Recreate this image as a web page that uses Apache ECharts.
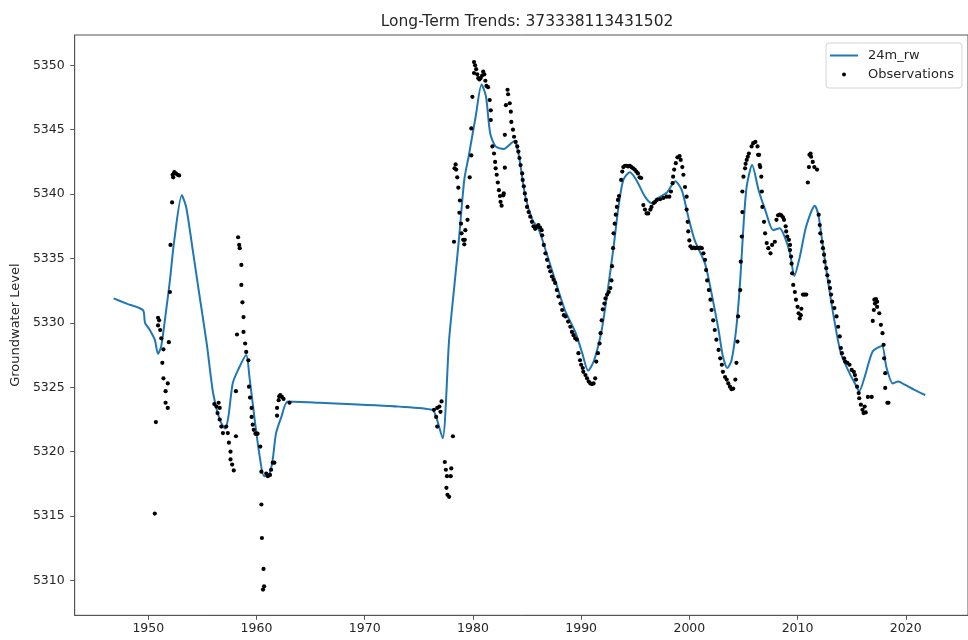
<!DOCTYPE html>
<html>
<head>
<meta charset="utf-8">
<script src="https://cdn.jsdelivr.net/npm/echarts@6/dist/echarts.min.js"></script>
<style>html,body{margin:0;padding:0;background:#fff}#c{width:968px;height:640px}</style>
</head>
<body>
<div id="c"></div>
<script>
const titleText = 'Long-Term Trends: 373338113431502';
const lineName = '24m_rw';
const obsName = 'Observations';
const yAxisName = 'Groundwater Level';
const xTicks = [1950, 1960, 1970, 1980, 1990, 2000, 2010, 2020];
const yTicks = [5310, 5315, 5320, 5325, 5330, 5335, 5340, 5345, 5350];

const lineYears = [1946.8,1948.0,1949.5,1949.7,1950.1,1950.6,1950.9,1951.2,1951.7,1952.0,1952.4,1953.1,1953.5,1954.1,1954.7,1955.4,1956.0,1956.6,1957.1,1957.4,1957.8,1958.3,1959.05,1959.35,1959.8,1960.3,1960.7,1961.2,1961.5,1961.8,1962.3,1962.9,1965.8,1973.2,1976.25,1976.6,1977.2,1977.8,1978.25,1978.7,1979.2,1979.6,1980.25,1980.8,1981.2,1981.6,1982.1,1982.85,1983.8,1984.2,1984.85,1985.5,1986.1,1986.7,1987.6,1988.5,1989.5,1990.1,1990.65,1991.2,1991.9,1992.5,1993.0,1993.45,1993.9,1994.5,1995.1,1995.9,1996.5,1997.1,1997.9,1998.7,1999.3,1999.9,2000.5,2001.45,2002.05,2002.7,2003.1,2003.5,2003.9,2004.35,2004.7,2005.0,2005.3,2005.8,2006.4,2007.0,2007.75,2008.35,2008.8,2009.3,2009.7,2010.2,2010.8,2011.6,2011.95,2012.35,2012.8,2013.4,2014.0,2014.8,2015.3,2015.7,2016.2,2016.95,2017.8,2018.2,2018.8,2019.3,2019.9,2020.8,2021.8];
const lineValues = [5331.9,5331.5,5331.0,5330.0,5329.5,5328.7,5327.6,5328.2,5331.3,5333.3,5336.4,5339.9,5339.0,5335.7,5332.3,5328.4,5324.5,5322.5,5321.8,5322.7,5325.3,5326.35,5327.5,5325.8,5322.7,5319.6,5318.1,5318.3,5319.4,5321.4,5322.7,5323.9,5323.8,5323.5,5323.25,5322.7,5321.05,5328.7,5332.6,5336.4,5341.1,5342.9,5346.0,5348.5,5347.6,5344.7,5343.7,5343.5,5344.1,5343.2,5339.8,5338.0,5337.2,5335.7,5333.3,5331.0,5329.2,5327.65,5326.3,5327.1,5329.45,5332.8,5335.9,5339.0,5341.1,5341.7,5341.1,5339.8,5339.3,5339.7,5340.1,5341.0,5340.3,5338.25,5336.4,5334.6,5332.3,5329.45,5327.4,5326.5,5327.1,5329.7,5333.3,5337.5,5340.6,5342.25,5340.3,5338.8,5337.2,5337.35,5336.7,5335.4,5333.65,5335.1,5337.5,5339.1,5338.25,5335.9,5333.3,5330.2,5327.65,5326.1,5325.3,5324.7,5325.8,5327.8,5328.2,5326.6,5325.3,5325.45,5325.2,5324.8,5324.4];

const obsYears = [
1950.6,1950.7,1950.9,1950.9,1951.0,1951.1,1951.2,1951.3,1951.4,1951.4,1951.6,1951.6,1951.8,1951.8,1951.9,1952.0,1952.05,1952.2,1952.25,1952.3,1952.4,1952.55,1952.7,1952.85,
1956.1,1956.3,1956.4,1956.5,1956.6,1956.6,1956.75,1956.9,1957.2,1957.35,1957.45,1957.6,1957.6,1957.75,1957.9,1958.1,1958.1,1958.2,1958.3,1958.4,1958.45,1958.6,1958.6,1958.7,1958.8,1958.8,1958.95,1959.05,1959.25,1959.3,1959.4,1959.55,1959.55,1959.65,1959.75,1959.9,1960.0,1960.1,1960.35,1960.45,1960.45,1960.5,1960.6,1960.65,1960.7,1960.9,1961.05,1961.25,1961.35,1961.5,1961.65,1961.9,1961.9,1962.05,1962.1,1962.2,1962.35,1962.5,1963.05,
1976.4,1976.6,1976.7,1976.7,1976.9,1977.0,1977.1,1977.4,1977.5,1977.55,1977.6,1977.65,1977.8,1977.95,1978.0,1978.15,1978.25,1978.3,1978.4,1978.45,1978.55,1978.65,1978.75,1978.8,1978.9,1978.95,1979.1,1979.2,1979.25,1979.3,1979.5,1979.5,1979.7,1979.85,1979.85,1979.95,1980.1,1980.1,1980.2,1980.3,1980.4,1980.5,1980.6,1980.7,1980.85,1980.95,1981.05,1981.15,1981.25,1981.4,1981.55,1981.65,1981.65,1981.8,1981.95,1982.05,1982.1,1982.2,1982.3,1982.4,1982.5,1982.55,1982.65,1982.8,1982.85,1982.95,1982.95,1983.05,1983.2,1983.25,1983.4,1983.5,1983.55,1983.7,1983.8,1983.95,1984.1,1984.2,1984.3,1984.4,1984.55,1984.6,1984.7,1984.8,1984.9,1985.0,1985.15,1985.3,1985.45,1985.6,1985.75,1985.9,1986.05,1986.2,1986.35,1986.4,1986.55,1986.7,1986.85,1987.0,1987.15,1987.3,1987.45,1987.6,1987.75,1987.9,1988.1,1988.25,1988.4,1988.55,1988.8,1989.0,1989.15,1989.3,1989.45,1989.6,1989.75,1989.9,1990.0,1990.15,1990.2,1990.4,1990.55,1990.7,1990.85,1991.0,1991.15,1991.3,1991.4,1991.55,1991.7,1991.8,1991.9,1992.0,1992.15,1992.25,1992.4,1992.55,1992.7,1992.8,1992.85,1992.95,1993.0,1993.1,1993.2,1993.3,1993.4,1993.5,1993.7,1993.8,1993.9,1994.05,1994.2,1994.35,1994.5,1994.65,1994.8,1994.95,1995.1,1995.25,1995.4,1995.55,1995.75,1995.9,1996.05,1996.2,1996.4,1996.5,1996.7,1996.85,1997.0,1997.3,1997.6,1997.9,1998.15,1998.3,1998.45,1998.5,1998.6,1998.75,1998.9,1999.1,1999.2,1999.35,1999.45,1999.6,1999.75,1999.75,1999.85,1999.9,2000.0,2000.1,2000.25,2000.4,2000.55,2000.7,2000.85,2001.0,2001.15,2001.3,2001.45,2001.55,2001.65,2001.8,2001.95,2002.05,2002.2,2002.35,2002.5,2002.7,2002.85,2003.0,2003.1,2003.3,2003.45,2003.6,2003.75,2003.9,2004.05,2004.25,2004.35,2004.45,2004.5,2004.7,2004.75,2004.85,2004.9,2004.9,2005.0,2005.15,2005.2,2005.3,2005.4,2005.5,2005.75,2005.9,2006.1,2006.3,2006.35,2006.45,2006.5,2006.55,2006.65,2006.7,2006.75,2006.9,2007.0,2007.15,2007.3,2007.5,2007.65,2007.9,2008.05,2008.2,2008.35,2008.5,2008.65,2008.75,2008.9,2008.95,2009.05,2009.2,2009.3,2009.3,2009.4,2009.45,2009.5,2009.6,2009.75,2009.85,2010.0,2010.1,2010.2,2010.3,2010.35,2010.5,2010.65,2010.8,2010.95,2011.05,2011.1,2011.2,2011.25,2011.4,2011.55,2011.8,2011.95,2012.05,2012.1,2012.25,2012.35,2012.45,2012.5,2012.65,2012.75,2012.9,2013.0,2013.1,2013.2,2013.4,2013.6,2013.75,2013.9,2014.0,2014.1,2014.3,2014.4,2014.6,2014.8,2015.0,2015.2,2015.3,2015.4,2015.5,2015.65,2015.7,2015.85,2016.0,2016.1,2016.2,2016.3,2016.5,2016.85,2016.95,2017.05,2017.1,2017.15,2017.25,2017.35,2017.35,2017.55,2017.7,2017.85,2017.95,2018.0,2018.1,2018.1,2018.3,2018.4];
const obsValues = [
5315.2,5322.3,5330.4,5329.8,5330.2,5329.45,5328.8,5326.9,5327.95,5325.7,5324.7,5323.8,5325.3,5323.4,5328.5,5332.4,5336.05,5339.35,5341.5,5341.3,5341.7,5341.6,5341.5,5341.45,
5323.7,5323.5,5323.0,5323.8,5323.4,5322.5,5321.95,5321.45,5321.95,5321.45,5320.7,5320.0,5319.4,5319.0,5318.55,5321.2,5324.7,5329.1,5336.65,5336.05,5335.8,5334.5,5332.95,5331.6,5330.45,5329.3,5328.4,5327.75,5327.1,5325.05,5324.2,5323.4,5322.7,5322.1,5321.7,5321.4,5321.4,5321.4,5320.4,5318.45,5315.9,5313.3,5309.3,5310.9,5309.55,5318.3,5318.1,5318.2,5318.6,5319.15,5319.15,5322.8,5323.4,5324.0,5324.3,5324.4,5324.25,5324.1,5323.8,
5323.25,5322.7,5323.4,5321.95,5323.5,5323.1,5323.9,5319.2,5318.6,5317.2,5318.1,5316.65,5316.5,5318.1,5318.7,5321.2,5336.3,5342.0,5342.3,5341.9,5341.3,5340.5,5338.55,5339.5,5337.7,5336.95,5336.45,5336.1,5336.45,5337.2,5338.0,5339.0,5341.3,5343.0,5345.1,5347.55,5349.4,5350.25,5350.0,5349.7,5349.3,5349.0,5348.9,5349.0,5349.2,5349.5,5349.3,5348.8,5348.4,5348.3,5347.3,5346.5,5345.75,5343.7,5343.15,5342.5,5342.0,5341.5,5340.9,5340.3,5339.85,5339.4,5339.1,5339.9,5340.05,5342.05,5344.6,5346.9,5348.1,5347.75,5347.05,5346.4,5345.6,5345.0,5344.45,5344.05,5343.7,5343.3,5342.8,5342.25,5341.6,5341.1,5340.6,5340.05,5339.55,5339.0,5338.6,5338.25,5337.85,5337.5,5337.3,5337.45,5337.6,5337.4,5337.2,5336.8,5336.05,5335.4,5334.9,5334.35,5334.0,5333.6,5333.35,5333.1,5332.55,5332.05,5331.5,5331.0,5330.6,5330.5,5330.1,5329.7,5329.3,5329.05,5328.8,5328.7,5327.65,5327.1,5326.75,5326.5,5326.2,5325.95,5325.7,5325.45,5325.3,5325.25,5325.3,5325.7,5327.0,5327.65,5328.4,5329.2,5330.2,5331.05,5331.5,5331.9,5332.2,5332.4,5332.7,5333.3,5334.4,5335.8,5336.95,5337.7,5338.4,5339.0,5339.55,5339.85,5341.1,5341.75,5342.1,5342.2,5342.2,5342.15,5342.2,5342.1,5342.0,5341.9,5341.75,5341.6,5341.3,5341.25,5339.15,5338.8,5338.5,5338.5,5338.8,5339.0,5339.3,5339.4,5339.55,5339.6,5339.7,5339.8,5339.8,5340.2,5340.85,5341.35,5341.9,5342.4,5342.85,5342.95,5342.65,5342.1,5341.5,5340.55,5339.8,5338.8,5337.85,5337.1,5336.4,5335.95,5335.8,5335.85,5335.8,5335.85,5335.8,5335.85,5335.8,5335.4,5334.9,5334.1,5333.3,5332.55,5331.8,5331.0,5330.2,5329.45,5328.7,5327.9,5327.25,5326.75,5326.2,5325.8,5325.6,5325.3,5325.05,5324.85,5324.9,5325.6,5326.9,5328.55,5330.5,5332.55,5334.75,5336.7,5338.6,5340.2,5341.35,5342.0,5342.35,5342.65,5342.9,5343.15,5343.7,5343.95,5344.05,5343.7,5343.05,5343.05,5342.25,5342.1,5341.35,5340.2,5339.0,5337.85,5336.95,5336.2,5335.8,5335.4,5336.05,5336.3,5338.0,5338.35,5338.4,5338.35,5338.2,5338.0,5337.5,5337.1,5336.7,5336.45,5336.05,5335.65,5335.15,5334.6,5333.85,5332.95,5332.4,5331.8,5331.25,5330.75,5330.35,5330.6,5331.1,5332.2,5332.2,5332.2,5340.9,5342.1,5343.05,5343.15,5342.9,5342.5,5342.1,5341.9,5338.4,5337.6,5336.95,5336.3,5335.8,5335.3,5334.75,5334.25,5333.7,5333.2,5332.7,5332.2,5331.65,5331.15,5330.5,5329.7,5328.95,5328.05,5327.65,5327.25,5327.0,5326.9,5326.75,5326.35,5326.2,5325.95,5325.6,5325.05,5324.55,5324.15,5323.65,5323.25,5323.0,5323.5,5323.05,5324.25,5324.25,5330.15,5331.0,5331.8,5331.5,5331.85,5331.65,5331.25,5330.75,5329.85,5329.2,5328.3,5327.25,5326.1,5324.95,5323.8,5323.8,5323.8];

const lineData = lineYears.map((x, i) => [x, lineValues[i]]);
const obsData = obsYears.map((x, i) => [x, obsValues[i]]);

const FONT = 'DejaVu Sans';
const TXT = '#262626';
const AX = '#555';

const chart = echarts.init(document.getElementById('c'), null, {renderer: 'canvas'});
chart.setOption({
  animation: false,
  backgroundColor: '#fff',
  title: {
    text: titleText,
    left: 522, top: 9, textAlign: 'center',
    textStyle: {fontFamily: FONT, fontSize: 15.5, fontWeight: 'normal', color: TXT}
  },
  legend: {
    orient: 'vertical',
    left: 826, top: 43,
    padding: [3, 8, 4, 4],
    itemWidth: 28, itemHeight: 4, itemGap: 0,
    borderColor: '#d4d4d4', borderWidth: 1, borderRadius: 3,
    backgroundColor: 'rgba(255,255,255,0.8)',
    textStyle: {fontFamily: FONT, fontSize: 13, color: TXT, lineHeight: 19, padding: [0, 0, 0, 5]},
    data: [
      {name: lineName, icon: 'path://M0,0 L28,0 L28,2 L0,2 Z', itemStyle: {color: '#1f77b4'}},
      {name: obsName, icon: 'circle', itemStyle: {color: '#000'}}
    ]
  },
  grid: {left: 74.7, top: 35, width: 895.7, bottom: 24.7, show: true, borderColor: AX, borderWidth: 1, backgroundColor: 'transparent'},
  xAxis: {
    type: 'value', min: 1943.2, max: 2025.75,
    axisLine: {show: true, lineStyle: {color: AX, width: 1}},
    axisTick: {show: true, length: 4.5, lineStyle: {color: AX}, customValues: xTicks},
    axisLabel: {fontFamily: FONT, fontSize: 12.5, color: TXT, margin: 7, customValues: xTicks, formatter: v => String(v)},
    splitLine: {show: false}
  },
  yAxis: {
    type: 'value', min: 5307.3, max: 5352.35,
    name: yAxisName, nameLocation: 'middle', nameGap: 46,
    nameTextStyle: {fontFamily: FONT, fontSize: 13, color: TXT},
    axisLine: {show: true, lineStyle: {color: AX, width: 1}},
    axisTick: {show: true, length: 4.5, lineStyle: {color: AX}, customValues: yTicks},
    axisLabel: {fontFamily: FONT, fontSize: 12.5, color: TXT, margin: 10, customValues: yTicks, formatter: v => String(v)},
    splitLine: {show: false}
  },
  series: [
    {
      name: lineName, type: 'line', data: lineData,
      symbol: 'none', showSymbol: false, smooth: 0.25,
      lineStyle: {color: '#1f77b4', width: 2},
      itemStyle: {color: '#1f77b4'},
      z: 2
    },
    {
      name: obsName, type: 'scatter', data: obsData,
      symbol: 'circle', symbolSize: 4.2,
      itemStyle: {color: '#000', opacity: 1},
      z: 3
    }
  ]
});
</script>
</body>
</html>
